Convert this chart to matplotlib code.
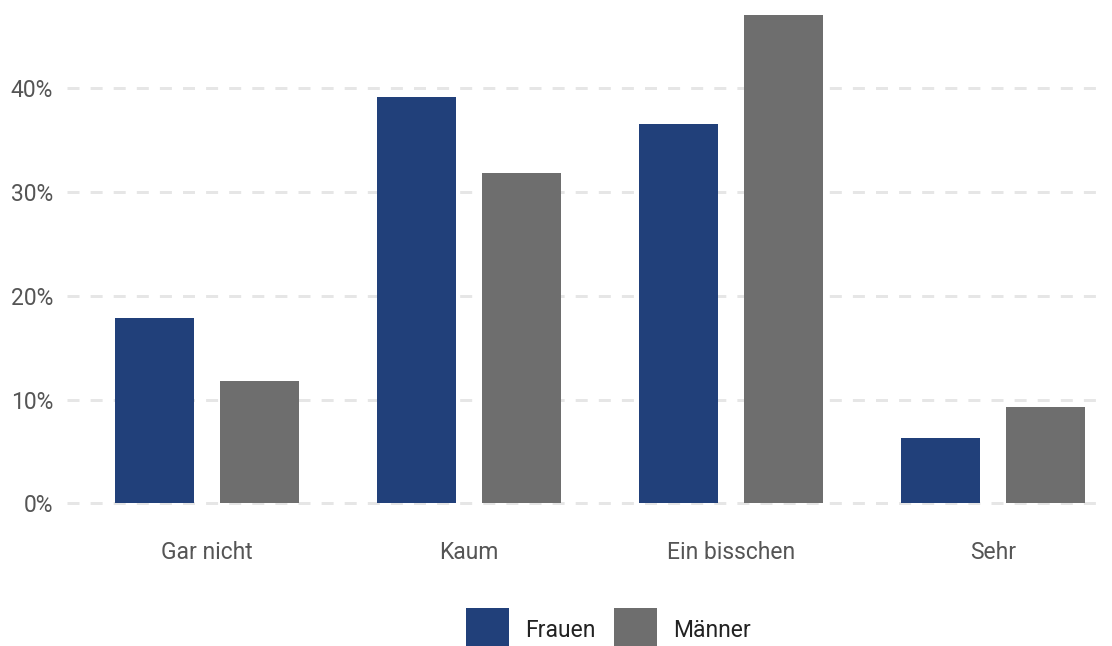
import numpy as np
import matplotlib.pyplot as plt

plt.rcParams['font.family'] = ['Roboto', 'DejaVu Sans']

# Survey answers per category (percent)
categories = ["Gar nicht", "Kaum", "Ein bisschen", "Sehr"]
frauen = [17.9, 39.2, 36.6, 6.3]
maenner = [11.8, 31.8, 47.1, 9.3]
yticks = [0, 10, 20, 30, 40]
ytick_labels = ["0%", "10%", "20%", "30%", "40%"]

col_frauen = "#21407a"
col_maenner = "#6e6e6e"

fig = plt.figure(figsize=(11.12, 6.46), dpi=100)
ax = fig.add_axes([0.0603, 0.2206, 0.9317, 0.7562])

x = np.arange(len(categories))
width = 0.3015
offset = 0.2004
ax.bar(x - offset, frauen, width, color=col_frauen, label="Frauen")
ax.bar(x + offset, maenner, width, color=col_maenner, label="Männer")

ax.set_xlim(-0.5344, 3.4198)
ax.set_ylim(0, 47.06)
ax.set_xticks(x)
ax.set_xticklabels(categories)
ax.set_yticks(yticks)
ax.set_yticklabels(ytick_labels)

ax.set_axisbelow(True)
ax.yaxis.grid(True, color="#e6e6e6", linewidth=2.16, linestyle=(0, (4, 3.7)))
for gl in ax.get_ygridlines():
    gl.set_clip_on(False)
for s in ax.spines.values():
    s.set_visible(False)
ax.tick_params(axis="both", length=0, labelsize=16.5, labelcolor="#555555")
ax.tick_params(axis="x", pad=27)
ax.tick_params(axis="y", pad=10)

fig.legend(loc="center", bbox_to_anchor=(0.547, 0.0255), ncol=2, frameon=False,
           fontsize=16.5, handlelength=1.88, handleheight=2.51, handletextpad=0.7,
           columnspacing=0.79, borderpad=0, labelcolor="#222222")

fig.savefig("out.png", dpi=100)
